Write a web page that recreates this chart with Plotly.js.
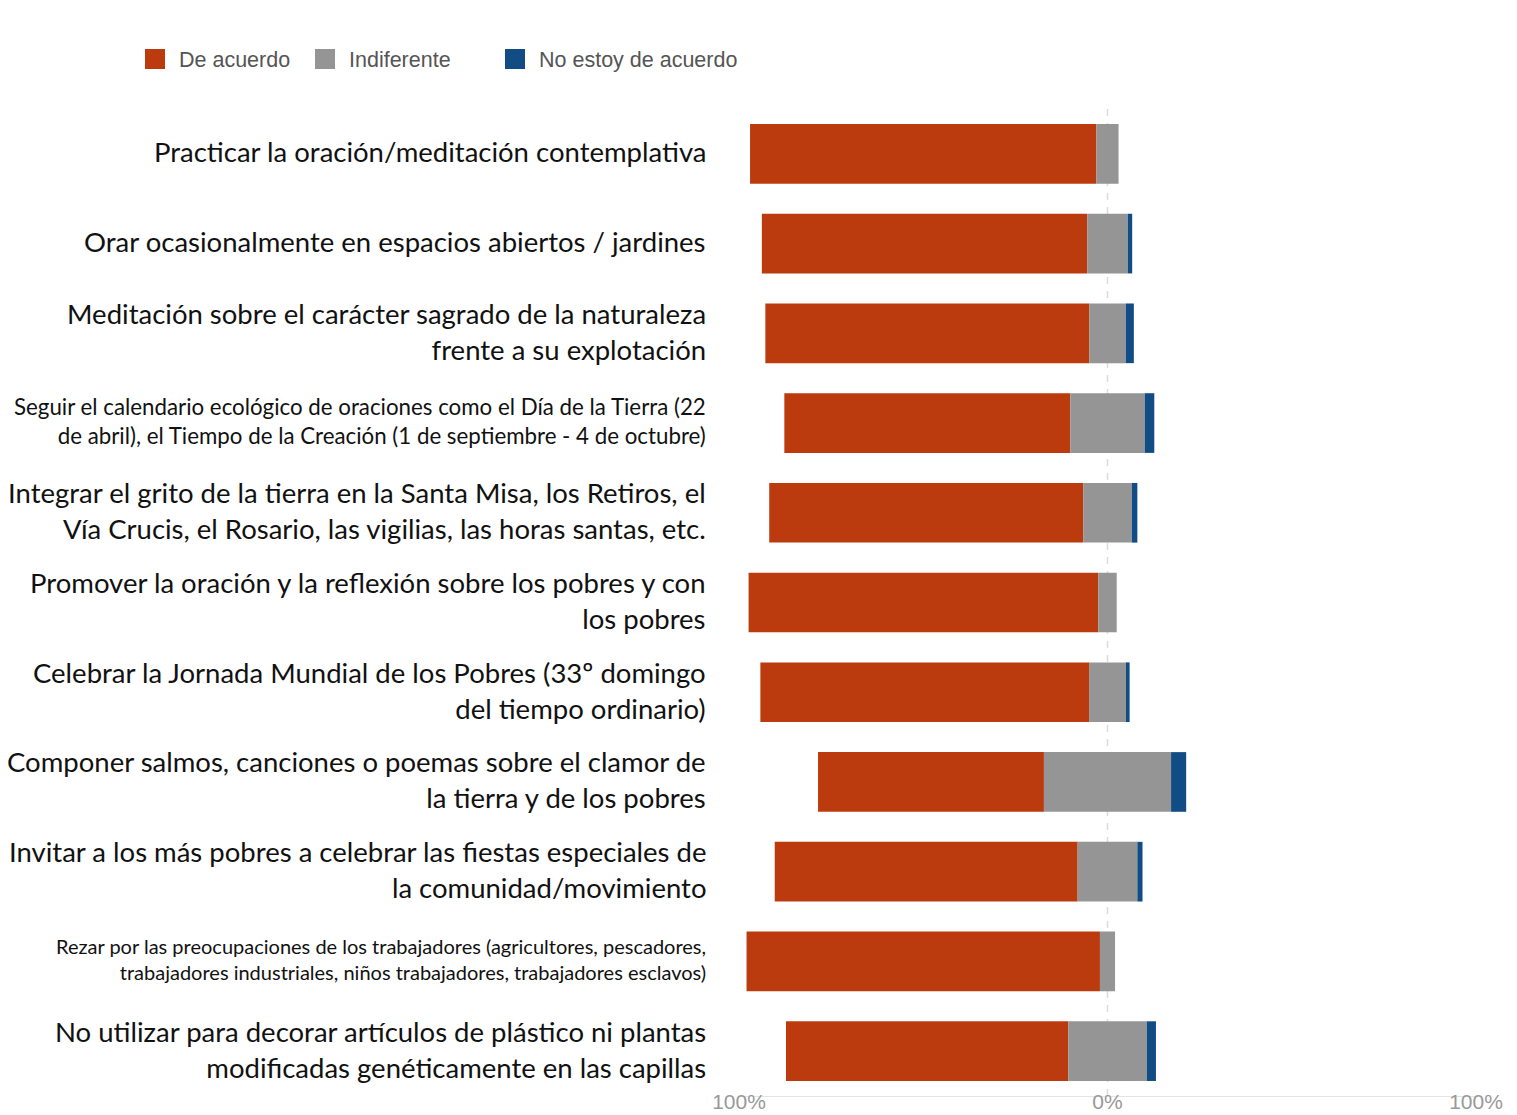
<!DOCTYPE html>
<html>
<head>
<meta charset="utf-8">
<script src="https://cdn.plot.ly/plotly-3.0.1.min.js"></script>
<style>html,body{margin:0;padding:0;background:#fff;}#chart{width:1517px;height:1115px;}</style>
</head>
<body>
<div id="chart"></div>
<script>
// ---- data ----
const categorias = [
  "Practicar la oración/meditación contemplativa",
  "Orar ocasionalmente en espacios abiertos / jardines",
  "Meditación sobre el carácter sagrado de la naturaleza<br>frente a su explotación",
  "Seguir el calendario ecológico de oraciones como el Día de la Tierra (22<br>de abril), el Tiempo de la Creación (1 de septiembre - 4 de octubre)",
  "Integrar el grito de la tierra en la Santa Misa, los Retiros, el<br>Vía Crucis, el Rosario, las vigilias, las horas santas, etc.",
  "Promover la oración y la reflexión sobre los pobres y con<br>los pobres",
  "Celebrar la Jornada Mundial de los Pobres (33º domingo<br>del tiempo ordinario)",
  "Componer salmos, canciones o poemas sobre el clamor de<br>la tierra y de los pobres",
  "Invitar a los más pobres a celebrar las fiestas especiales de<br>la comunidad/movimiento",
  "Rezar por las preocupaciones de los trabajadores (agricultores, pescadores,<br>trabajadores industriales, niños trabajadores, trabajadores esclavos)",
  "No utilizar para decorar artículos de plástico ni plantas<br>modificadas genéticamente en las capillas"
];
const deAcuerdo   = [94.0, 88.3, 87.9, 77.6, 85.2, 94.9, 89.2, 61.3, 82.2, 95.9, 76.6];
const indiferente = [ 6.0, 11.0,  9.9, 20.2, 13.2,  5.0, 10.0, 34.5, 16.2,  4.1, 21.3];
const noDeAcuerdo = [ 0.0,  1.2,  2.2,  2.6,  1.5,  0.0,  1.0,  4.1,  1.4,  0.0,  2.5];
const serieNombres = ["De acuerdo", "Indiferente", "No estoy de acuerdo"];
const tickVals  = [-100, 0, 100];
const tickTexts = ["100%", "0%", "100%"];

// ---- styles ----
const colores = ["#BC3B0E", "#959595", "#124C84"];
const labelFont = "Lato, 'Noto Sans', sans-serif";
const baseLabelSize = 27.5;
const labelSizeOverride = {3: 22.3, 9: 20.0};   // smaller labels by index
const legendFont = {family: "'Liberation Sans', Arial, sans-serif", size: 21.5, color: '#555'};

// diverging layout: neutral centred on zero
const baseNeutral = indiferente.map(v => -v / 2);
const agreeNeg    = deAcuerdo.map(v => -v);
const baseDisagree = indiferente.map(v => v / 2);

const barCommon = {type: 'bar', orientation: 'h', y: categorias, hoverinfo: 'skip', showlegend: false};
const traces = [
  Object.assign({}, barCommon, {name: serieNombres[0], base: baseNeutral, x: agreeNeg, marker: {color: colores[0]}}),
  Object.assign({}, barCommon, {name: serieNombres[1], base: baseNeutral, x: indiferente, marker: {color: colores[1]}}),
  Object.assign({}, barCommon, {name: serieNombres[2], base: baseDisagree, x: noDeAcuerdo, marker: {color: colores[2]}})
];
// legend entries (larger squares than the bar legend symbol)
serieNombres.forEach((n, i) => {
  traces.push({
    type: 'scatter', mode: 'markers', x: [null], y: [null], name: n,
    legend: i < 2 ? 'legend' : 'legend2', hoverinfo: 'skip',
    marker: {symbol: 'square', size: 16, color: colores[i], line: {width: 4, color: colores[i]}}
  });
});

const annotations = categorias.map((c, i) => ({
  xref: 'paper', yref: 'y', x: 0, y: c, xanchor: 'right', yanchor: 'middle',
  xshift: -31, yshift: 2, text: c, showarrow: false, align: 'right',
  font: {family: labelFont, size: labelSizeOverride[i] || baseLabelSize, color: '#111'}
}));

const layout = {
  width: 1517, height: 1115,
  margin: {l: 739, r: 41, t: 109, b: 19, pad: 0},
  paper_bgcolor: '#fff', plot_bgcolor: '#fff',
  barmode: 'overlay', bargap: 0.335,
  font: {family: "'Liberation Sans', Arial, sans-serif"},
  xaxis: {
    range: [-100, 100], tickvals: tickVals, ticktext: tickTexts,
    showgrid: true, gridcolor: '#e4e4e4', gridwidth: 1,
    zeroline: true, zerolinecolor: 'rgba(0,0,0,0)',
    showline: true, linecolor: '#e4e4e4', linewidth: 1,
    ticks: '', ticklabelstandoff: -13,
    tickfont: {family: "'Liberation Sans', Arial, sans-serif", size: 21, color: '#999'},
    fixedrange: true
  },
  yaxis: {
    type: 'category', autorange: 'reversed', showticklabels: false,
    showgrid: false, zeroline: false, showline: false, ticks: '', fixedrange: true
  },
  shapes: [{
    type: 'line', xref: 'x', yref: 'paper', x0: 0, x1: 0, y0: 0, y1: 1, layer: 'below',
    line: {color: '#dcdcdc', width: 1.5, dash: '7px,7px'}
  }],
  legend: {
    orientation: 'h', xref: 'container', yref: 'container',
    x: 131 / 1517, y: 1 - 59 / 1115, xanchor: 'left', yanchor: 'middle',
    entrywidth: 117, entrywidthmode: 'pixels', itemwidth: 38,
    font: legendFont, bgcolor: 'rgba(0,0,0,0)', itemclick: false, itemdoubleclick: false
  },
  legend2: {
    orientation: 'h', xref: 'container', yref: 'container',
    x: 491 / 1517, y: 1 - 59 / 1115, xanchor: 'left', yanchor: 'middle', itemwidth: 38,
    font: legendFont, bgcolor: 'rgba(0,0,0,0)', itemclick: false, itemdoubleclick: false
  },
  annotations: annotations,
  showlegend: true
};

Plotly.newPlot('chart', traces, layout, {displayModeBar: false, staticPlot: true});
</script>
</body>
</html>
